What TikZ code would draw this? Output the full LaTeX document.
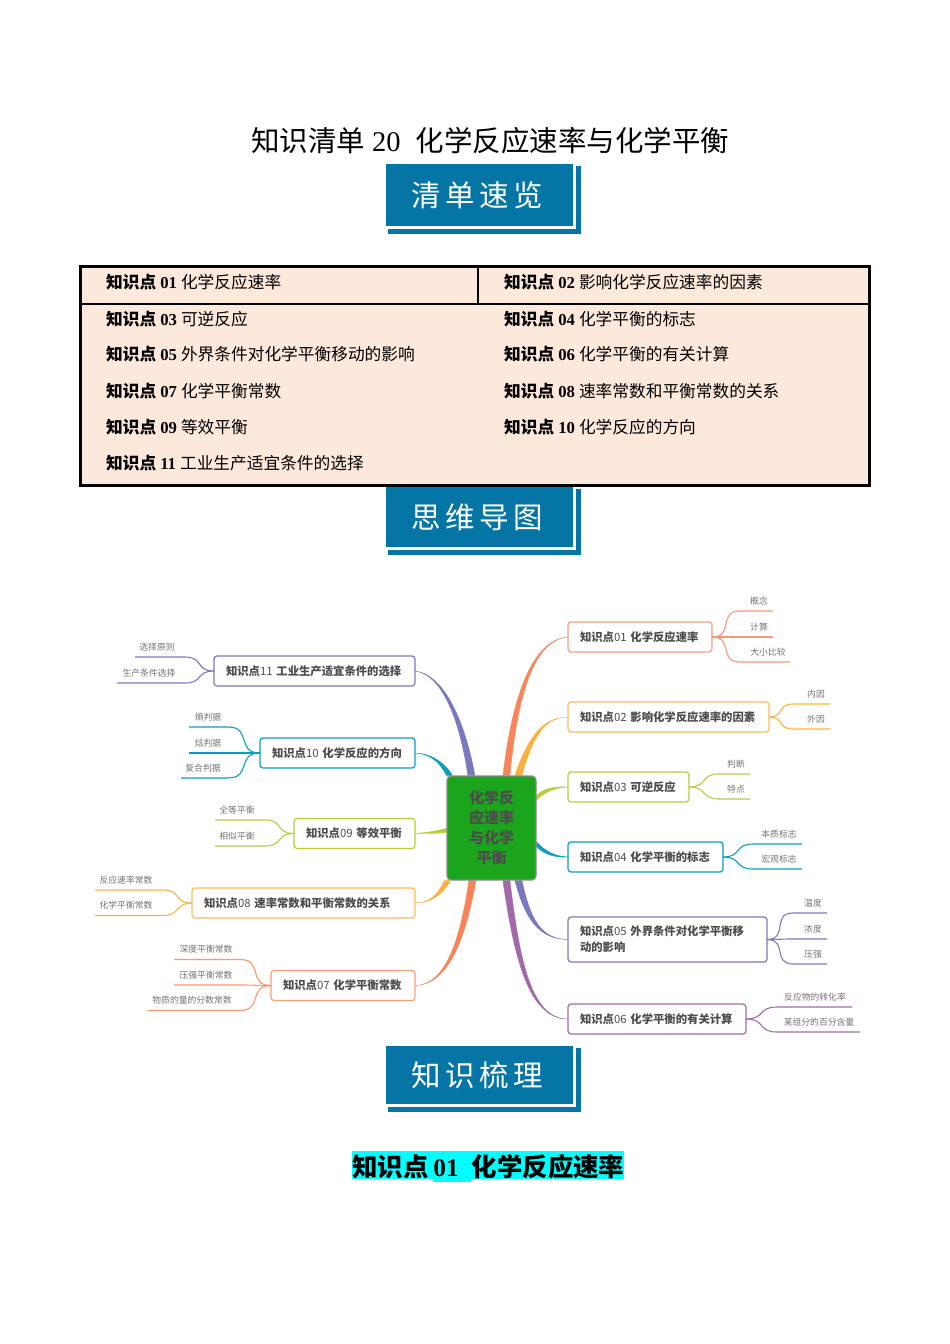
\documentclass[tikz,border=0pt]{standalone}
\usepackage{fontspec}
\setmainfont{Noto Sans CJK SC}
\newfontfamily\serifnum{Liberation Serif}
\usetikzlibrary{calc,backgrounds}
\definecolor{orx}{HTML}{F9845A}
\definecolor{amx}{HTML}{FDB03F}
\definecolor{ylx}{HTML}{B9CB3D}
\definecolor{tex}{HTML}{0C9DBB}
\definecolor{inx}{HTML}{7A78BE}
\definecolor{pux}{HTML}{A367AB}
\definecolor{bnx}{HTML}{0475A5}
\definecolor{tbx}{HTML}{FDE9DB}
\definecolor{hbx}{HTML}{1AA51C}
\definecolor{cyx}{HTML}{00FFFF}
\tikzset{
    branch/.style={draw=#1,fill=white,rounded corners=3pt,line width=1.2pt,inner xsep=12pt,inner ysep=0pt,outer sep=0pt,
        minimum height=30pt,align=left,text=black!70,font=\fontsize{11.35}{16}\selectfont},
    leaftext/.style={inner sep=0pt,text=black!55,font=\fontsize{8.8}{10}\selectfont},
    twig/.style={line width=1.1pt},
    kp/.style={anchor=west,inner sep=0pt,font=\fontsize{16.7}{20}\selectfont},
    banner/.style={anchor=north west,fill=bnx,outer sep=0pt,inner sep=0pt,minimum width=187pt,
        text=white,font=\fontsize{29.5}{32}\selectfont\addfontfeatures{LetterSpace=15}}
}
\newcommand{\kpt}[2]{{\bfseries 知识点\hspace{4pt}{\serifnum #1}\hspace{4pt}}{#2}}
\newcommand{\kpb}[2]{{\bfseries 知识点}#1 {\bfseries #2}}
\newcommand{\limb}[6]{
    \filldraw[#1,line width=0.4pt] ($(#2)+(#3)$) .. controls ($(#4)+0.75*(#3)$) and ($(#5)+0.25*(#3)$) .. (#6)
        .. controls ($(#5)-0.25*(#3)$) and ($(#4)-0.75*(#3)$) .. ($(#2)-(#3)$) -- cycle;
}
\newcommand{\twigs}[7]{
    \foreach \cx/\ly/\xe/\txt [count=\i] in {#7} {
        \node [leaftext] (#1t\i) at (\cx,\ly) {\txt};
        \coordinate (#1e\i) at (\xe,\ly+10);
        \coordinate (#1k\i) at ($(#1.#2)+(#4,0)$);
        \draw [twig,#3] (#1.#2) to [out=#5,in=#6,looseness=1.5] (#1k\i |- #1e\i) -- (#1e\i);
    }
}
\begin{document}
\begin{tikzpicture}[x=1pt,y=-1pt]
    \useasboundingbox (0,0) rectangle (950,1344);
    \node [inner sep=0pt,font=\fontsize{28.5}{32}\selectfont] (title) at (490,141)
        {知识清单\hspace{7pt}{\serifnum 20}\hspace{15pt}化学反应速率与化学平衡};
    % banners
    \foreach \nm/\y/\h/\txt in {bna/164/62/清单速览,bnb/487/60/思维导图,bnc/1046/58/知识梳理} {
        \fill [bnx] (388,\y+2) rectangle (581,\y+\h+7.5);
        \fill [white] (386,\y) rectangle (575.5,\y+\h+2.5);
        \node [banner,minimum height=\h pt] (\nm) at (386,\y) {\txt\hspace{5pt}\null};
    }
    % table
    \node [draw,fill=tbx,line width=2.2pt,inner sep=0pt,outer sep=0pt,minimum width=789pt,minimum height=219pt] (tbl) at (475,376) {};
    \draw [line width=2.2pt] (tbl.west |- 0,304) -- (tbl.east |- 0,304);
    \draw [line width=2.2pt] (478,0 |- tbl.north) -- (478,304);
    \foreach \x/\y/\n/\txt in {
        106/282/01/化学反应速率,504/282/02/影响化学反应速率的因素,
        106/319/03/可逆反应,504/319/04/化学平衡的标志,
        106/354/05/外界条件对化学平衡移动的影响,504/354/06/化学平衡的有关计算,
        106/391/07/化学平衡常数,504/391/08/速率常数和平衡常数的关系,
        106/427/09/等效平衡,504/427/10/化学反应的方向,
        106/463/11/工业生产适宜条件的选择} {
        \node [kp] (kp\n) at (\x,\y) {\kpt{\n}{\txt}};
    }
    % mind map
    \node [draw=black!45,fill=hbx,rounded corners=4pt,line width=1.2pt,inner sep=0pt,minimum width=89pt,minimum height=104pt,
        align=center,text=black!70,font=\bfseries\fontsize{15}{20}\selectfont] (hub) at (491.5,828) {化学反\\应速率\\与化学\\平衡};
    \node [branch=orx!80,anchor=west,text width=120pt] (ra) at (568,637) {\kpb{01}{化学反应速率}};
    \node [branch=amx!85,anchor=west,text width=177pt] (rb) at (568,717) {\kpb{02}{影响化学反应速率的因素}};
    \node [branch=ylx,anchor=west,text width=97pt] (rc) at (568,787) {\kpb{03}{可逆反应}};
    \node [branch=tex,anchor=west,text width=131pt] (rd) at (568,857) {\kpb{04}{化学平衡的标志}};
    \node [branch=inx,anchor=west,text width=175pt,minimum height=45pt] (re) at (568,939.5) {\kpb{05}{外界条件对化学平衡移}\\{\bfseries 动的影响}};
    \node [branch=pux,anchor=west,text width=154pt] (rf) at (568,1019) {\kpb{06}{化学平衡的有关计算}};
    \node [branch=inx,anchor=east,text width=177pt] (lk) at (415,671) {\kpb{11}{工业生产适宜条件的选择}};
    \node [branch=tex,anchor=east,text width=131pt] (lj) at (415,753) {\kpb{10}{化学反应的方向}};
    \node [branch=ylx,anchor=east,text width=97pt] (li) at (415,833.5) {\kpb{09}{等效平衡}};
    \node [branch=amx!85,anchor=east,text width=199pt] (lh) at (415,903) {\kpb{08}{速率常数和平衡常数的关系}};
    \node [branch=orx!80,anchor=east,text width=120pt] (lg) at (415,985.5) {\kpb{07}{化学平衡常数}};
    \twigs{ra}{east}{orx!85}{28}{0}{180}{759/601/773/概念,759/627/773/计算,768/652/790/大小比较}
    \twigs{rb}{east}{amx}{24}{0}{180}{816/694/830/内因,816/719/830/外因}
    \twigs{rc}{east}{ylx}{30}{0}{180}{736/764/750/判断,736/789/750/特点}
    \twigs{rd}{east}{tex}{30}{0}{180}{779/834/802/本质标志,779/859/802/宏观标志}
    \twigs{re}{east}{inx}{26}{0}{180}{813/903/827/温度,813/929/827/浓度,813/954/827/压强}
    \twigs{rf}{east}{pux}{31}{0}{180}{815/997/852/反应物的转化率,819/1022/860/某组分的百分含量}
    \twigs{lk}{west}{inx}{-29}{180}{0}{157/647/135/选择原则,149/673/117/生产条件选择}
    \twigs{lj}{west}{tex}{-32}{180}{0}{208/717/189/熵判据,208/743/189/焓判据,203/768/181/复合判据}
    \twigs{li}{west}{ylx}{-29}{180}{0}{237/810/215/全等平衡,237/836/215/相似平衡}
    \twigs{lh}{west}{amx}{-29}{180}{0}{126/880/95/反应速率常数,126/905.5/95/化学平衡常数}
    \twigs{lg}{west}{orx!85}{-31}{180}{0}{206/949.5/174/深度平衡常数,206/975/174/压强平衡常数,192/1000.5/148/物质的量的分数常数}
    \begin{scope}[on background layer]
        \coordinate (hra) at ($(hub.north west)+(60,0)$);
        \coordinate (hrb) at ($(hub.north west)+(72,0)$);
        \coordinate (hrc) at ($(hub.north east)+(0,22)$);
        \coordinate (hrd) at ($(hub.north east)+(0,69)$);
        \coordinate (hre) at ($(hub.south west)+(72,0)$);
        \coordinate (hrf) at ($(hub.south west)+(60,0)$);
        \coordinate (hlk) at ($(hub.north west)+(25,0)$);
        \coordinate (hlj) at ($(hub.north west)+(3,0)$);
        \coordinate (hli) at ($(hub.north west)+(0,55)$);
        \coordinate (hlh) at ($(hub.south west)+(1,0)$);
        \coordinate (hlg) at ($(hub.south west)+(26,0)$);
        \limb{orx}{hra}{3.5,0}{514,705}{530,640}{ra.west}
        \limb{amx}{hrb}{3.5,0}{528,745}{540,717}{rb.west}
        \limb{ylx}{hrc}{0,2.5}{545,790}{555,787}{rc.west}
        \limb{tex}{hrd}{0,2.5}{545,853}{555,857}{rd.west}
        \limb{inx}{hre}{3.5,0}{528,920}{540,939}{re.west}
        \limb{pux}{hrf}{3.5,0}{517,960}{530,1019}{rf.west}
        \limb{inx}{hlk}{3.5,0}{463,725}{445,675}{lk.east}
        \limb{tex}{hlj}{3,0}{443,763}{430,753}{lj.east}
        \limb{ylx}{hli}{0,2}{438,832}{428,833}{li.east}
        \limb{amx}{hlh}{3,0}{440,895}{430,903}{lh.east}
        \limb{orx}{hlg}{3.5,0}{462,945}{445,985}{lg.east}
    \end{scope}
    % heading
    \fill [cyx] (352,1151) rectangle (624,1179);
    \fill [cyx] (433,1151) rectangle (471,1182);
    \node [inner sep=0pt,anchor=west,font=\fontsize{25.4}{28}\selectfont] (head) at (352,1167)
        {{\bfseries 知识点\hspace{5pt}{\serifnum 01}\hspace{13pt}化学反应速率}};
\end{tikzpicture}
\end{document}
